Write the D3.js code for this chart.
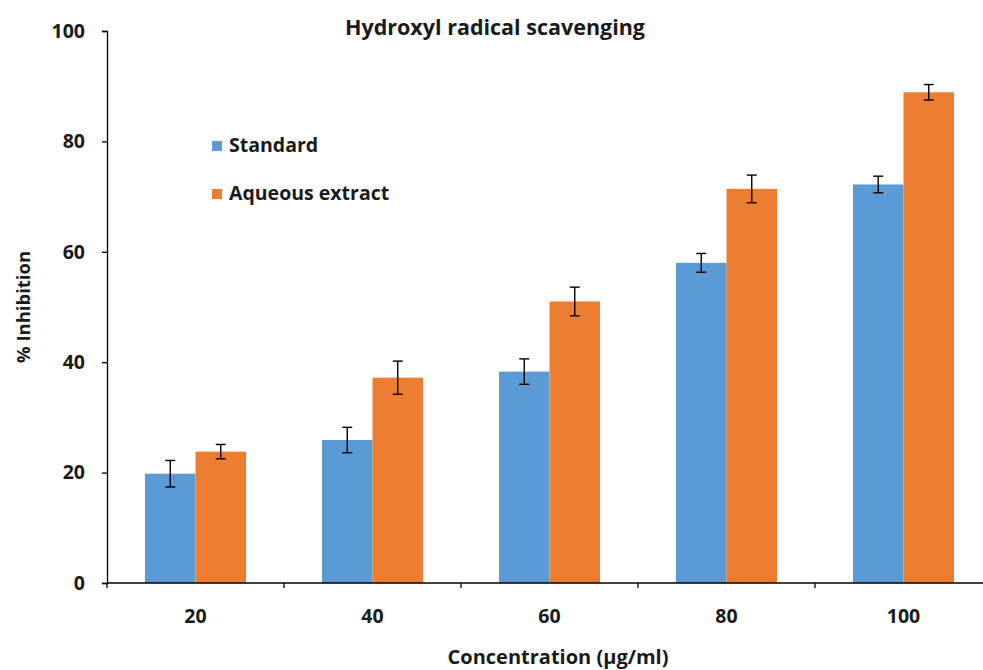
<!DOCTYPE html>
<html>
<head>
<meta charset="utf-8">
<script src="https://cdn.jsdelivr.net/npm/d3@7"></script>
<style>
  body { margin: 0; background: #fff; }
  text { font-family: "Open Sans", "Noto Sans", sans-serif; font-weight: bold; fill: #1a1a1a; }
</style>
</head>
<body>
<div id="chart"></div>
<script>
// data
const concentrations = ["20", "40", "60", "80", "100"];
const seriesNames = ["Standard", "Aqueous extract"];
const standard = [19.8, 25.9, 38.3, 58.0, 72.2];
const standardErr = [2.4, 2.3, 2.3, 1.7, 1.5];
const aqueous = [23.8, 37.2, 51.0, 71.4, 88.9];
const aqueousErr = [1.3, 3.0, 2.6, 2.5, 1.4];
const yTicks = [0, 20, 40, 60, 80, 100];
const colors = ["#5B9BD5", "#ED7D31"];

const W = 983, H = 670;
const margin = {top: 31, right: -9, bottom: 87, left: 107};
const width = W - margin.left - margin.right;
const height = H - margin.top - margin.bottom;

const svg = d3.select("#chart")
  .append("svg")
    .attr("width", W)
    .attr("height", H)
  .append("g")
    .attr("transform", `translate(${margin.left}, ${margin.top})`);

const rows = concentrations.map((c, i) => ({
  c: c,
  vals: [
    {k: 0, v: standard[i], e: standardErr[i]},
    {k: 1, v: aqueous[i], e: aqueousErr[i]}
  ]
}));

// scales
const x0 = d3.scaleBand().domain(concentrations).range([0, width]).padding(0);
const x1 = d3.scaleBand().domain([0, 1]).range([x0.bandwidth() / 2 - 50.5, x0.bandwidth() / 2 + 50.5]);
const y = d3.scaleLinear().domain([0, 100]).range([height, 0]);

// bars
const groups = svg.selectAll(".grp")
  .data(rows)
  .join("g")
    .attr("transform", d => `translate(${x0(d.c)}, 0)`);

groups.selectAll("rect")
  .data(d => d.vals)
  .join("rect")
    .attr("x", d => x1(d.k))
    .attr("width", x1.bandwidth())
    .attr("y", d => y(d.v))
    .attr("height", d => y(0) - y(d.v))
    .attr("fill", d => colors[d.k]);

// error bars
const err = groups.selectAll(".err")
  .data(d => d.vals)
  .join("g")
    .attr("class", "err")
    .attr("stroke", "#000")
    .attr("stroke-width", 1.4);
err.append("line")
  .attr("x1", d => x1(d.k) + x1.bandwidth() / 2)
  .attr("x2", d => x1(d.k) + x1.bandwidth() / 2)
  .attr("y1", d => y(d.v + d.e))
  .attr("y2", d => y(d.v - d.e));
[1, -1].forEach(s => {
  err.append("line")
    .attr("x1", d => x1(d.k) + x1.bandwidth() / 2 - 5)
    .attr("x2", d => x1(d.k) + x1.bandwidth() / 2 + 5)
    .attr("y1", d => y(d.v + s * d.e))
    .attr("y2", d => y(d.v + s * d.e));
});

// y axis
svg.append("g")
  .call(d3.axisLeft(y).tickValues(yTicks).tickSize(5).tickPadding(17))
  .call(g => g.selectAll("path, line").attr("stroke", "#000").attr("stroke-width", 1.3))
  .call(g => g.selectAll("text")
    .style("font-size", "19.5px")
    .style("font-family", "'Open Sans', sans-serif")
    .style("font-weight", "bold")
    .attr("fill", "#1a1a1a"));

// x axis (ticks between categories)
const xAxisG = svg.append("g")
  .attr("transform", `translate(0, ${height})`);
xAxisG.append("line")
  .attr("x1", 0).attr("x2", width)
  .attr("stroke", "#000").attr("stroke-width", 1.3);
xAxisG.selectAll(".tk")
  .data(concentrations)
  .join("line")
    .attr("x1", d => x0(d)).attr("x2", d => x0(d))
    .attr("y1", 0).attr("y2", 5)
    .attr("stroke", "#000").attr("stroke-width", 1.3);
xAxisG.selectAll(".lbl")
  .data(concentrations)
  .join("text")
    .attr("x", d => x0(d) + x0.bandwidth() / 2)
    .attr("y", 40)
    .attr("text-anchor", "middle")
    .style("font-size", "19.5px")
  .text(d => d);

// title
svg.append("text")
  .attr("x", 388)
  .attr("y", 4)
  .attr("text-anchor", "middle")
  .style("font-size", "21.5px")
  .text("Hydroxyl radical scavenging");

// axis labels
svg.append("text")
  .attr("transform", `translate(-77, ${height / 2}) rotate(-90)`)
  .attr("text-anchor", "middle")
  .style("font-size", "18.5px")
  .text("% Inhibition");

svg.append("text")
  .attr("x", 451)
  .attr("y", height + 81)
  .attr("text-anchor", "middle")
  .style("font-size", "20px")
  .text("Concentration (µg/ml)");

// legend
const legend = svg.selectAll(".leg")
  .data(seriesNames)
  .join("g")
    .attr("transform", (d, i) => `translate(105, ${110 + i * 48})`);
legend.append("rect")
  .attr("width", 10).attr("height", 10)
  .attr("fill", (d, i) => colors[i]);
legend.append("text")
  .attr("x", 17)
  .attr("y", 11)
  .style("font-size", "19.5px")
  .text(d => d);
</script>
</body>
</html>
